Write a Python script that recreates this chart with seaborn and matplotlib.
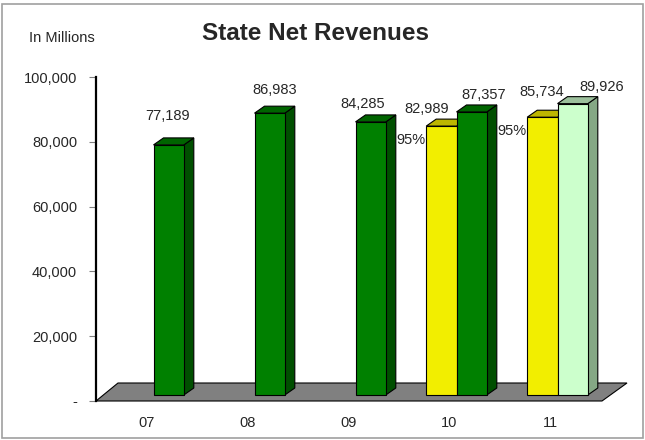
import pandas as pd
import seaborn as sns
import matplotlib.pyplot as plt
from matplotlib.patches import Polygon, Rectangle
from matplotlib.ticker import FuncFormatter

# =========================
# DATA (in millions)
# =========================
years = ["07", "08", "09", "10", "11"]
est_years = ["10", "11"]
est_values = [82989, 85734]          # 95% estimate
net_values = [77189, 86983, 84285, 87357, 89926]
projected_years = ["11"]             # drawn in light green
est_label = "95%"

rows = [{"year": y, "series": "est", "value": v} for y, v in zip(est_years, est_values)]
rows += [{"year": y, "series": "net", "value": v} for y, v in zip(years, net_values)]
df = pd.DataFrame(rows)

# face colours: front, side, top
yellow = ("#F2EE00", "#A8A200", "#BDB600")
green = ("#008000", "#004F00", "#006400")
light = ("#CCFFCC", "#85A885", "#9CC09C")

# label nudges in pixels (x from bar centre, y above bar top)
label_nudge = {
    ("net", "07"): (-1, 29), ("net", "08"): (5, 23), ("net", "09"): (-8, 18),
    ("est", "10"): (-15, 17), ("net", "10"): (12, 17),
    ("est", "11"): (-1, 25), ("net", "11"): (29, 17),
}

# =========================
# FIGURE
# =========================
sns.set_style("white")
plt.rcParams["font.family"] = ["Liberation Sans", "DejaVu Sans"]

fig = plt.figure(figsize=(6.45, 4.40), dpi=100)
ax = fig.add_axes([96 / 645, 39 / 440, 505 / 645, 324 / 440])

sns.barplot(
    data=df, x="year", y="value", hue="series",
    order=years, hue_order=["est", "net"],
    palette={"est": yellow[0], "net": green[0]},
    width=0.6, saturation=1, edgecolor="black", linewidth=0.8,
    legend=False, ax=ax,
)

ax.set_xlim(-0.5, 4.5)
ax.set_ylim(0, 100000)

# data units per pixel
sx = 5 / 505
sy = 100000 / 324
shift_x, shift_y = 7 * sx, 6 * sy     # bars sit in the middle of the floor
dx, dy = 10 * sx, 7 * sy              # bar depth

# floor
fx0, fx1 = -0.5, 4.5 + sx
floor = Polygon(
    [(fx0, 0), (fx1, 0), (fx1 + 25 * sx, 18 * sy), (fx0 + 22 * sx, 18 * sy)],
    closed=True, facecolor="#808080", edgecolor="black", linewidth=0.8,
    clip_on=False, zorder=1,
)
ax.add_patch(floor)

# 3D bars
series_years = {"est": est_years, "net": years}
for cont, key in zip(ax.containers, ["est", "net"]):
    for bar, yr in zip(cont, series_years[key]):
        if key == "est":
            cols = yellow
        elif yr in projected_years:
            cols = light
        else:
            cols = green
        x0 = bar.get_x() + shift_x
        w = bar.get_width()
        h = bar.get_height()
        y0 = shift_y
        bar.set_x(x0)
        bar.set_y(y0)
        bar.set_facecolor(cols[0])
        bar.set_zorder(4)
        bar.set_clip_on(False)
        side = Polygon(
            [(x0 + w, y0), (x0 + w + dx, y0 + dy), (x0 + w + dx, y0 + h + dy), (x0 + w, y0 + h)],
            closed=True, facecolor=cols[1], edgecolor="black", linewidth=0.8,
            zorder=3, clip_on=False,
        )
        top = Polygon(
            [(x0, y0 + h), (x0 + w, y0 + h), (x0 + w + dx, y0 + h + dy), (x0 + dx, y0 + h + dy)],
            closed=True, facecolor=cols[2], edgecolor="black", linewidth=0.8,
            zorder=3, clip_on=False,
        )
        ax.add_patch(side)
        ax.add_patch(top)

        # value labels
        nx, ny = label_nudge[(key, yr)]
        ax.annotate(
            f"{h:,.0f}", (x0 + w / 2, y0 + h),
            xytext=(nx, ny), textcoords="offset pixels",
            ha="center", va="center", fontsize=10.5, zorder=6,
        )
        if key == "est":
            ax.annotate(
                est_label, (x0, y0 + h),
                xytext=(-1, -14), textcoords="offset pixels",
                ha="right", va="center", fontsize=10.5, zorder=6,
            )

# axes styling
for s in ["top", "right", "bottom"]:
    ax.spines[s].set_visible(False)
ax.spines["left"].set_color("black")
ax.spines["left"].set_linewidth(1.6)
ax.spines["left"].set_zorder(5)

ax.set_yticks(range(0, 100001, 20000))
ax.yaxis.set_major_formatter(FuncFormatter(lambda v, p: "-" if v == 0 else f"{v:,.0f}"))
ax.tick_params(axis="y", left=True, length=5, width=0.8, color="#808080",
               labelsize=10.5, pad=8.5)
ax.tick_params(axis="x", bottom=False, labelsize=10.5, pad=7)
ax.set_xlabel("")
ax.set_ylabel("")

# titles
fig.text(316 / 645, 1 - 33 / 440, "State Net Revenues", ha="center", va="center",
         fontsize=17.5, fontweight="bold")
fig.text(62 / 645, 1 - 38 / 440, "In Millions", ha="center", va="center", fontsize=10.5)

# outer border
fig.patches.append(Rectangle((2 / 645, 2 / 440), 641 / 645, 434 / 440,
                             transform=fig.transFigure, fill=False,
                             edgecolor="#A0A0A0", linewidth=1.2))

plt.savefig("out.png", dpi=100)
plt.close()
